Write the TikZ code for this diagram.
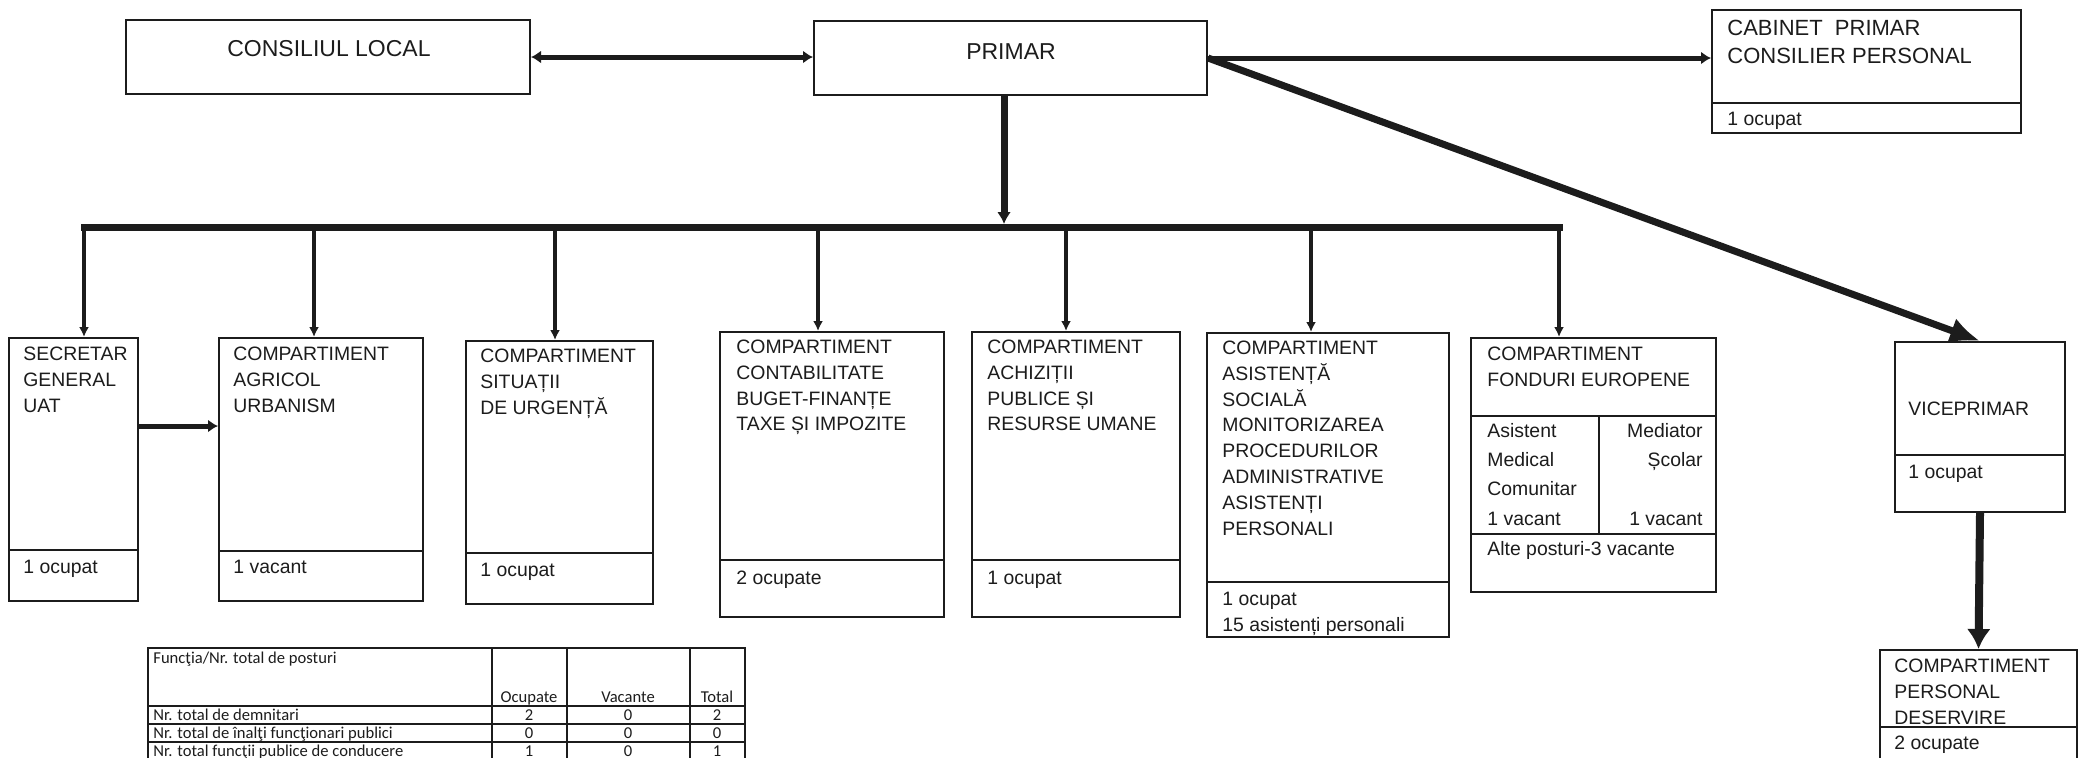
\documentclass[tikz,border=0pt]{standalone}
\usepackage{fontspec}
\setmainfont{Liberation Sans}
\newfontfamily\tabfont{Carlito}
\usetikzlibrary{arrows.meta,fit}
\definecolor{ink}{HTML}{1C1C1C}
\newcommand\st{\rule{0pt}{10pt}}
\begin{document}
\begin{tikzpicture}[x=0.5pt,y=-0.5pt,
  box/.style={draw=ink,line width=1pt,inner sep=0pt},
  sepline/.style={draw=ink,line width=1pt},
  txtL/.style={inner sep=0pt,anchor=north west,align=left,text=ink,font=\fontsize{9.7}{12.9}\selectfont},
  txtB/.style={inner sep=0pt,anchor=base west,text=ink,font=\fontsize{9.7}{12.9}\selectfont},
  lblBig/.style={inner sep=0pt,text=ink,font=\fontsize{11.5}{14}\selectfont},
  tabTxt/.style={inner sep=0pt,text=ink,font={\tabfont\fontsize{8.3}{9}\selectfont}},
  tabLine/.style={draw=ink,line width=0.6pt},
  busLine/.style={draw=ink,line width=3.5pt,line cap=rect},
  dropArr/.style={draw=ink,line width=2pt,-{Latex[length=5pt,width=5pt]}},
  hArr/.style={draw=ink,line width=2.5pt,-{Latex[length=5pt,width=6.5pt]}},
  dblArr/.style={draw=ink,line width=2.5pt,{Latex[length=5pt,width=6.5pt]}-{Latex[length=5pt,width=6.5pt]}},
  downArr/.style={draw=ink,line width=3.5pt,-{Latex[length=6pt,width=7pt]}},
  diagArr/.style={draw=ink,line width=3.5pt,-{Latex[length=15pt,width=13pt]}},
  vArr/.style={draw=ink,line width=4pt,-{Latex[length=10pt,width=12pt]}}
]
\useasboundingbox (0,0) rectangle (2080,757);
\fill[white] (0,0) rectangle (2080,757);

% ---- top row
\node[box,fit={(126,20)(530,94)}] (cl) {};
\node[lblBig] (clT) at (329,49) {CONSILIUL LOCAL};
\node[box,fit={(814,21)(1207,95)}] (pr) {};
\node[lblBig] (prT) at (1011,52) {PRIMAR};
\node[box,fit={(1712,10)(2021,133)}] (cab) {};
\draw[sepline] (1712,103) -- (2021,103);
\node[txtL,font=\fontsize{11}{14}\selectfont] (cabT) at (1727,15) {\st CABINET~~PRIMAR\\CONSILIER PERSONAL};
\node[txtB] (cabO) at (1727,125) {1 ocupat};

% ---- compartments
\node[box,fit={(9,338)(138,601)}] (sec) {};
\draw[sepline] (9,550) -- (138,550);
\node[txtL] (secT) at (23,340) {\st SECRETAR\\GENERAL\\UAT};
\node[txtB] (secO) at (23,573) {1 ocupat};

\node[box,fit={(219,338)(423,601)}] (agr) {};
\draw[sepline] (219,551) -- (423,551);
\node[txtL] (agrT) at (233,340) {\st COMPARTIMENT\\AGRICOL\\URBANISM};
\node[txtB] (agrO) at (233,573) {1 vacant};

\node[box,fit={(466,341)(653,604)}] (sit) {};
\draw[sepline] (466,553) -- (653,553);
\node[txtL] (sitT) at (480,342) {\st COMPARTIMENT\\SITUAȚII\\DE URGENȚĂ};
\node[txtB] (sitO) at (480,576) {1 ocupat};

\node[box,fit={(720,332)(944,617)}] (con) {};
\draw[sepline] (720,560) -- (944,560);
\node[txtL] (conT) at (736,333) {\st COMPARTIMENT\\CONTABILITATE\\BUGET-FINANȚE\\TAXE ȘI IMPOZITE};
\node[txtB] (conO) at (736,584) {2 ocupate};

\node[box,fit={(972,332)(1180,617)}] (ach) {};
\draw[sepline] (972,560) -- (1180,560);
\node[txtL] (achT) at (987,333) {\st COMPARTIMENT\\ACHIZIȚII\\PUBLICE ȘI\\RESURSE UMANE};
\node[txtB] (achO) at (987,584) {1 ocupat};

\node[box,fit={(1207,333)(1449,637)}] (asi) {};
\draw[sepline] (1207,582) -- (1449,582);
\node[txtL] (asiT) at (1222,334) {\st COMPARTIMENT\\ASISTENȚĂ\\SOCIALĂ\\MONITORIZAREA\\PROCEDURILOR\\ADMINISTRATIVE\\ASISTENȚI\\PERSONALI};
\node[txtL] (asiO) at (1222,585) {\st 1 ocupat\\15 asistenți personali};

\node[box,fit={(1471,338)(1716,592)}] (fon) {};
\draw[sepline] (1471,416) -- (1716,416);
\draw[sepline] (1471,534) -- (1716,534);
\draw[sepline] (1599,416) -- (1599,534);
\node[txtL] (fonT) at (1487,340) {\st COMPARTIMENT\\FONDURI EUROPENE};
\node[txtL,font=\fontsize{9.7}{14.6}\selectfont] (fonA) at (1487,417) {\st Asistent\\Medical\\Comunitar\\1 vacant};
\node[txtL,anchor=north east,align=right,font=\fontsize{9.7}{14.6}\selectfont] (fonM) at (1703,417) {\st Mediator\\Școlar\\\mbox{}\\1 vacant};
\node[txtB] (fonO) at (1487,555) {Alte posturi-3 vacante};

\node[box,fit={(1895,342)(2065,512)}] (vic) {};
\draw[sepline] (1895,455) -- (2065,455);
\node[txtB] (vicT) at (1908,415) {VICEPRIMAR};
\node[txtB] (vicO) at (1908,478) {1 ocupat};

\node[box,fit={(1880,650)(2077,790)}] (des) {};
\draw[sepline] (1880,727) -- (2077,727);
\node[txtL] (desT) at (1894,652) {\st COMPARTIMENT\\PERSONAL\\DESERVIRE};
\node[txtB] (desO) at (1894,749) {2 ocupate};

% ---- connectors
\draw[dblArr] (cl.east) -- (cl.east -| pr.west);
\draw[hArr] (pr.east) -- (pr.east -| cab.west);
\draw[diagArr] (pr.east) -- (vic.north);

\coordinate (d1) at (84,227);
\coordinate (d2) at (314,227);
\coordinate (d3) at (555,227);
\coordinate (d4) at (818,227);
\coordinate (d5) at (1066,227);
\coordinate (d6) at (1311,227);
\coordinate (d7) at (1559,227);
\coordinate (pd) at (1004,227);
\draw[busLine] (d1) -- (d7);
\draw[downArr] (pd |- pr.south) -- ([yshift=1.5pt]pd);
\draw[dropArr] (d1) -- (d1 |- sec.north);
\draw[dropArr] (d2) -- (d2 |- agr.north);
\draw[dropArr] (d3) -- (d3 |- sit.north);
\draw[dropArr] (d4) -- (d4 |- con.north);
\draw[dropArr] (d5) -- (d5 |- ach.north);
\draw[dropArr] (d6) -- (d6 |- asi.north);
\draw[dropArr] (d7) -- (d7 |- fon.north);

\coordinate (sa) at (138,426);
\draw[hArr] (sec.east |- sa) -- (sa -| agr.west);
\draw[vArr] (vic.south) -- (des.north);

% ---- table
\node[tabLine,fit={(148,648)(745,775)},inner sep=0pt] (tab) {};
\draw[tabLine] (148,706) -- (745,706);
\draw[tabLine] (148,724) -- (745,724);
\draw[tabLine] (148,742) -- (745,742);
\draw[tabLine] (148,760) -- (745,760);
\draw[tabLine] (492,648) -- (492,775);
\draw[tabLine] (567,648) -- (567,775);
\draw[tabLine] (690,648) -- (690,775);
\node[tabTxt,anchor=base west] (th0) at (153,663) {Funcţia/Nr. total de posturi};
\node[tabTxt,anchor=base] (th1) at (529,702) {Ocupate};
\node[tabTxt,anchor=base] (th2) at (628,702) {Vacante};
\node[tabTxt,anchor=base] (th3) at (717,702) {Total};
\node[tabTxt,anchor=base west] (r1a) at (153,720) {Nr. total de demnitari};
\node[tabTxt,anchor=base] (r1b) at (529,720) {2};
\node[tabTxt,anchor=base] (r1c) at (628,720) {0};
\node[tabTxt,anchor=base] (r1d) at (717,720) {2};
\node[tabTxt,anchor=base west] (r2a) at (153,738) {Nr. total de înalţi funcţionari publici};
\node[tabTxt,anchor=base] (r2b) at (529,738) {0};
\node[tabTxt,anchor=base] (r2c) at (628,738) {0};
\node[tabTxt,anchor=base] (r2d) at (717,738) {0};
\node[tabTxt,anchor=base west] (r3a) at (153,756) {Nr. total funcţii publice de conducere};
\node[tabTxt,anchor=base] (r3b) at (529,756) {1};
\node[tabTxt,anchor=base] (r3c) at (628,756) {0};
\node[tabTxt,anchor=base] (r3d) at (717,756) {1};
\end{tikzpicture}
\end{document}
